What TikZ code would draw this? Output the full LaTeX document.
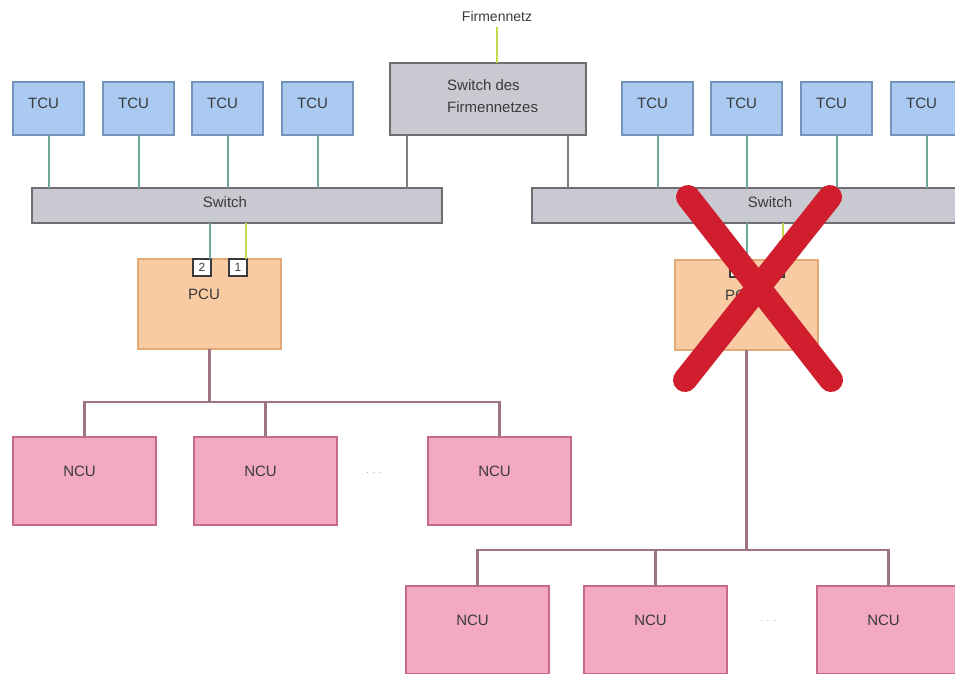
\documentclass[tikz,border=0pt]{standalone}
\usepackage{fontspec}
\setmainfont{Liberation Sans}
\usetikzlibrary{calc}
\definecolor{tcufill}{HTML}{AACAF2}
\definecolor{tcudraw}{HTML}{7393BC}
\definecolor{swfill}{HTML}{C9C9D2}
\definecolor{swdraw}{HTML}{6E6E72}
\definecolor{pcufill}{HTML}{F8CBA2}
\definecolor{pcudraw}{HTML}{E2A878}
\definecolor{ncufill}{HTML}{F2A9C1}
\definecolor{ncudraw}{HTML}{C56A88}
\definecolor{tealline}{HTML}{6FA89A}
\definecolor{yline}{HTML}{C6D84A}
\definecolor{grayline}{HTML}{7E7E7E}
\definecolor{busline}{HTML}{9C7484}
\definecolor{xred}{HTML}{D01E2E}
\definecolor{txt}{HTML}{3A3A3A}
\begin{document}
\begin{tikzpicture}[x=1pt,y=-1pt,
  box/.style={anchor=north west,inner sep=0pt,outer sep=0pt,line width=1.3pt},
  tcu/.style={box,fill=tcufill,draw=tcudraw,minimum width=71pt,minimum height=53pt},
  swbox/.style={box,fill=swfill,draw=swdraw,minimum height=35pt},
  pcu/.style={box,fill=pcufill,draw=pcudraw,minimum width=143pt,minimum height=90pt},
  ncu/.style={box,fill=ncufill,draw=ncudraw,minimum width=143pt,minimum height=88pt},
  port/.style={box,fill=white,draw=txt,line width=1.2pt,minimum width=18pt,minimum height=17pt,
    font=\fontsize{12}{12}\selectfont,text=txt},
  lbl/.style={inner sep=0pt,font=\fontsize{15}{17}\selectfont,text=txt},
  dots/.style={inner sep=0pt,font=\fontsize{10}{10}\selectfont,text=black!35},
  tealc/.style={draw=tealline,line width=2pt},
  yc/.style={draw=yline,line width=2pt},
  grayc/.style={draw=grayline,line width=2pt},
  busc/.style={draw=busline,line width=2.2pt},
  cross/.style={draw=xred,line width=24pt,line cap=round}]
\useasboundingbox (0,0) rectangle (955,673);
\clip (0,0) rectangle (955,673);

% company network uplink
\node[lbl,font=\fontsize{14}{16}\selectfont] (fn) at (497,16) {Firmennetz};
\node[swbox,minimum width=196pt,minimum height=72pt] (fs) at (390,63) {};
\node[lbl,align=left,anchor=north west,font=\fontsize{15}{22}\selectfont] (fstxt) at (447,79) {Switch des\\Firmennetzes};

% switches
\node[swbox,minimum width=410pt] (swl) at (32,188) {};
\node[lbl] (swltxt) at (225,202) {Switch};
\node[swbox,minimum width=476pt] (swr) at (532,188) {};
\node[lbl] (swrtxt) at (770,202) {Switch};

% terminal units, left group
\node[tcu] (t1) at (13,82) {};
\node[tcu] (t2) at (103,82) {};
\node[tcu] (t3) at (192,82) {};
\node[tcu] (t4) at (282,82) {};
% terminal units, right group
\node[tcu] (t5) at (622,82) {};
\node[tcu] (t6) at (711,82) {};
\node[tcu] (t7) at (801,82) {};
\node[tcu] (t8) at (891,82) {};
\foreach \t in {t1,t2,t3,t4,t5,t6,t7,t8}{
  \node[lbl] at ($(\t.center)+(-5,-5)$) {TCU};
}

% processing units
\node[pcu] (pl) at (138,259) {};
\node[lbl] (pltxt) at (204,294) {PCU};
\node[port] (pl2) at (193,259) {2};
\node[port] (pl1) at (229,259) {1};
\node[pcu] (pr) at (675,260) {};
\node[lbl] (prtxt) at (741,295) {PCU};
\node[port] (pr2) at (730,260) {2};
\node[port] (pr1) at (766,260) {1};

% node units, left group
\node[ncu] (n1) at (13,437) {};
\node[ncu] (n2) at (194,437) {};
\node[ncu] (n3) at (428,437) {};
\node[dots] (d1) at (374,473) {. . .};
% node units, right group
\node[ncu] (n4) at (406,586) {};
\node[ncu] (n5) at (584,586) {};
\node[ncu] (n6) at (817,586) {};
\node[dots] (d2) at (768,621) {. . .};
\foreach \n in {n1,n2,n3,n4,n5,n6}{
  \node[lbl] at ($(\n.center)+(-5,-10)$) {NCU};
}

% uplinks
\draw[yc] (fn.south) ++(0,6) -- (fn.south |- fs.north);
\draw[grayc] ([xshift=17pt]fs.south west) -- ([xshift=17pt]fs.south west |- swl.north);
\draw[grayc] ([xshift=-18pt]fs.south east) -- ([xshift=-18pt]fs.south east |- swr.north);

% terminal links
\foreach \t in {t1,t2,t3,t4}{ \draw[tealc] (\t.south) -- (\t.south |- swl.north); }
\foreach \t in {t5,t6,t7,t8}{ \draw[tealc] (\t.south) -- (\t.south |- swr.north); }

% switch to processing unit ports
\draw[tealc] ([xshift=-1pt]pl2.north east) -- ([xshift=-1pt]pl2.north east |- swl.south);
\draw[yc] ([xshift=-1pt]pl1.north east) -- ([xshift=-1pt]pl1.north east |- swl.south);
\draw[tealc] ([xshift=-1pt]pr2.north east) -- ([xshift=-1pt]pr2.north east |- swr.south);
\draw[yc] ([xshift=-1pt]pr1.north east) -- ([xshift=-1pt]pr1.north east |- swr.south);

% node bus, left
\coordinate (bl) at (0,402);
\draw[busc] (pl.south) -- (pl.south |- bl);
\draw[busc] (n1.north) -- (n1.north |- bl) -- (n3.north |- bl) -- (n3.north);
\draw[busc] (n2.north) -- (n2.north |- bl);
% node bus, right
\coordinate (br) at (0,550);
\draw[busc] (pr.south) -- (pr.south |- br);
\draw[busc] (n4.north) -- (n4.north |- br) -- (n6.north |- br) -- (n6.north);
\draw[busc] (n5.north) -- (n5.north |- br);

% failed unit
\coordinate (xa) at (688,197);
\coordinate (xb) at (831,380);
\coordinate (xc) at (830,197);
\coordinate (xd) at (685,380);
\draw[cross] (xa) -- (xb);
\draw[cross] (xc) -- (xd);
\end{tikzpicture}
\end{document}
